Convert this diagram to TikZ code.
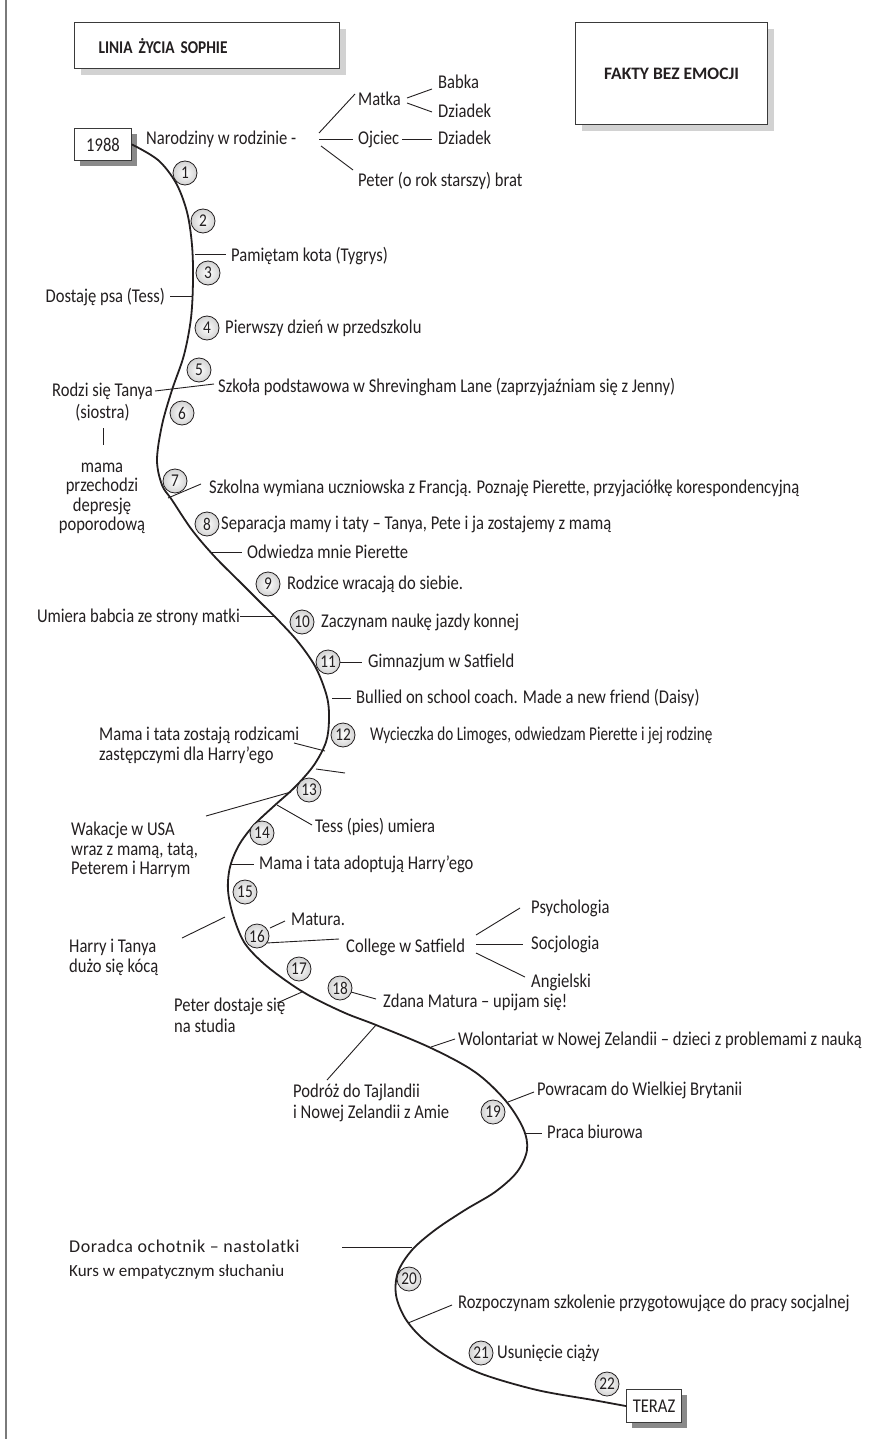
\documentclass[tikz,border=0pt]{standalone}
\usepackage{fontspec}
\setmainfont[FakeStretch=0.85]{Carlito}
\newfontfamily\headfont[FakeStretch=0.85]{Carlito}
\newfontfamily\widehead{Carlito}
\newfontfamily\tightfont[FakeStretch=0.78]{Carlito}
\newfontfamily\spacedfont[LetterSpace=3]{Carlito}
\newfontfamily\plainfont{Carlito}
\usetikzlibrary{shadows}
\definecolor{ink}{HTML}{231F20}
\definecolor{frame}{HTML}{3A3A3A}
\definecolor{paleshadow}{HTML}{D2D2D2}
\definecolor{darkshadow}{HTML}{8A8A8A}
\definecolor{edge}{HTML}{7A7A7A}
\tikzset{
  txt/.style={inner sep=0pt, text height=11pt, text depth=0pt, text=ink,
    font=\fontsize{19.5}{22}\selectfont},
  lw/.style={txt, anchor=west},
  le/.style={txt, anchor=east},
  % several lines: placed by the baseline of the last line
  multi/.style={inner sep=0pt, text=ink, align=#1},
  tick/.style={draw=ink, line width=0.9pt},
  life/.style={draw=ink, line width=1.8pt, line cap=round},
  num/.style={circle, draw=ink, line width=0.8pt, minimum size=24pt, inner sep=0pt,
    inner color=white, outer color=gray!35, text=ink,
    font=\fontsize{18}{18}\selectfont},
  bigbox/.style={draw=frame, line width=1.2pt, fill=white, anchor=north west,
    copy shadow={shadow xshift=6pt, shadow yshift=-6pt, draw=none, fill=paleshadow},
    text=ink},
  endbox/.style={draw=frame, line width=1.1pt, fill=white, anchor=north west, inner sep=0pt,
    copy shadow={shadow xshift=5pt, shadow yshift=-5pt, draw=none, fill=darkshadow},
    font=\fontsize{19.5}{22}\selectfont, text=ink},
}
\begin{document}
\begin{tikzpicture}[x=1pt, y=-1pt]
\useasboundingbox (0,0) rectangle (886,1439);
\fill[white] (0,0) rectangle (886,1439);
% page edge
\draw[edge, line width=2pt] (6,0) -- (6,1439);

% headings
\node[bigbox, minimum width=265pt, minimum height=46pt, text width=217pt,
  inner xsep=24pt, align=left, font=\headfont\bfseries\fontsize{18}{21}\selectfont]
  (title) at (74,22) {LINIA ŻYCIA SOPHIE};
\node[bigbox, minimum width=192pt, minimum height=102pt, align=center,
  font=\widehead\bfseries\fontsize{17.5}{21}\selectfont]
  (facts) at (575,22) {FAKTY BEZ EMOCJI};

% start and end of the life line
\node[endbox, minimum width=57pt, minimum height=32pt] (start) at (74,128) {1988};
\node[endbox, minimum width=55pt, minimum height=33pt] (now) at (626,1389) {TERAZ};

% the life line
\draw[life] plot[smooth, tension=0.55] coordinates {
  (start.east) (158,160) (176,183) (187,212) (192,245) (193,280) (191,318)
  (184,355) (172,390) (162,425) (157,460) (162,485) (172,500) (192,530)
  (215,557) (240,582) (262,604) (280,622) (299,643) (316,668) (327,697)
  (329,720) (326,742) (314,765) (295,787) (274,806) (254,825) (239,845)
  (230,867) (228,890) (233,915) (244,942) (262,962) (285,980) (310,996)
  (345,1013) (376,1025) (431,1048) (475,1072) (505,1100) (523,1128)
  (527,1150) (517,1172) (495,1192) (465,1210) (435,1230) (412,1250)
  (398,1272) (396,1295) (405,1318) (422,1338) (448,1357) (482,1374)
  (537,1390) (593,1400) (now.west)};

% family
\node[lw] (birth) at (146,139) {Narodziny w rodzinie -};
\node[lw] (mother) at (358,100) {Matka};
\node[lw] (gmother) at (438,83) {Babka};
\node[lw] (gfatherm) at (438,112) {Dziadek};
\node[lw] (father) at (358,139) {Ojciec};
\node[lw] (gfatherf) at (438,139) {Dziadek};
\node[lw] (brother) at (358,181) {Peter (o rok starszy) brat};
\draw[tick] (319,133) -- (355,94);
\draw[tick] (319,139) -- (353,139);
\draw[tick] (321,146) -- (353,170);
\draw[tick] (407,98) -- (432,89);
\draw[tick] (407,103) -- (432,112);
\draw[tick] (402,139) -- (432,139);

% events
\node[lw] (cat) at (231,256) {Pamiętam kota (Tygrys)};
\draw[tick] (195,254) -- (226,254);
\node[le] (dog) at (165,297) {Dostaję psa (Tess)};
\draw[tick] (170,296) -- (192,296);
\node[lw] (nursery) at (225,328) {Pierwszy dzień w przedszkolu};
\node[lw] (school) at (218,387) {Szkoła podstawowa w Shrevingham Lane (zaprzyjaźniam się z Jenny)};
\node[multi=center, anchor=base, font=\fontsize{19.5}{22}\selectfont] (sister) at (102.5,418.5) {Rodzi się Tanya\\(siostra)};
\draw[tick] (155,391) -- (214,384);
\draw[tick] (103,428) -- (103,445);
\node[multi=center, anchor=base, font=\fontsize{19.5}{19.5}\selectfont] (mum) at (102,530.5) {mama\\przechodzi\\depresję\\poporodową};
\node[lw] (exchange) at (209,488) {Szkolna wymiana uczniowska z Francją. Poznaję Pierette, przyjaciółkę korespondencyjną};
\draw[tick] (168,498) -- (201,484);
\node[lw] (separation) at (221,524) {Separacja mamy i taty – Tanya, Pete i ja zostajemy z mamą};
\node[lw] (visit) at (247,553) {Odwiedza mnie Pierette};
\draw[tick] (212,552) -- (242,552);
\node[lw] (together) at (287,584) {Rodzice wracają do siebie.};
\node[le] (grandma) at (240,617) {Umiera babcia ze strony matki};
\draw[tick] (240,616) -- (276,616);
\node[lw] (riding) at (321,622) {Zaczynam naukę jazdy konnej};
\node[lw] (gym) at (368,662) {Gimnazjum w Satfield};
\draw[tick] (339,662) -- (362,662);
\node[lw] (bullied) at (356,698) {Bullied on school coach. Made a new friend (Daisy)};
\draw[tick] (332,698) -- (351,698);
\node[multi=left, anchor=base west, font=\fontsize{19.5}{20}\selectfont] (foster) at (99,760.5) {Mama i tata zostają rodzicami\\zastępczymi dla Harry’ego};
\draw[tick] (294,743) -- (325,751);
\draw[tick] (316,769) -- (345,773);
\node[lw, font=\tightfont\fontsize{19.5}{22}\selectfont] (limoges) at (370,735) {Wycieczka do Limoges, odwiedzam Pierette i jej rodzinę};
\node[multi=left, anchor=base west, font=\fontsize{19.5}{19.5}\selectfont] (usa) at (71,874.5) {Wakacje w USA\\wraz z mamą, tatą,\\Peterem i Harrym};
\draw[tick] (206,816) -- (291,792);
\node[lw] (tess) at (315,827) {Tess (pies) umiera};
\draw[tick] (277,805) -- (312,825);
\node[lw] (adopt) at (259,864) {Mama i tata adoptują Harry’ego};
\draw[tick] (231,864) -- (254,864);
\node[lw] (matura) at (291,920) {Matura.};
\draw[tick] (270,928) -- (285,921);
\node[multi=left, anchor=base west, font=\fontsize{19.5}{20}\selectfont] (fights) at (69,972.5) {Harry i Tanya\\dużo się kócą};
\draw[tick] (182,938) -- (225,917);
\node[lw] (college) at (346,947) {College w Satfield};
\draw[tick] (266,943) -- (339,939);
\node[lw] (psych) at (531,908) {Psychologia};
\node[lw] (socio) at (531,944) {Socjologia};
\node[lw] (english) at (531,982) {Angielski};
\draw[tick] (476,935) -- (520,908);
\draw[tick] (476,944) -- (523,944);
\draw[tick] (476,953) -- (525,977);
\node[lw] (passed) at (383,1002) {Zdana Matura – upijam się!};
\draw[tick] (351,992) -- (376,999);
\node[multi=left, anchor=base west, font=\fontsize{19.5}{21}\selectfont] (uni) at (174,1032.5) {Peter dostaje się\\na studia};
\draw[tick] (302,992) -- (277,1003);
\node[lw] (volunteer) at (458,1040) {Wolontariat w Nowej Zelandii – dzieci z problemami z nauką};
\draw[tick] (431,1047) -- (455,1039);
\node[multi=left, anchor=base west, font=\fontsize{19.5}{21}\selectfont] (travel) at (293,1118.5) {Podróż do Tajlandii\\i Nowej Zelandii z Amie};
\draw[tick] (376,1025) -- (327,1080);
\node[lw] (back) at (537,1090) {Powracam do Wielkiej Brytanii};
\draw[tick] (508,1102) -- (534,1092);
\node[lw] (office) at (547,1133) {Praca biurowa};
\draw[tick] (525,1133) -- (542,1133);
\node[lw, font=\spacedfont\fontsize{18}{20}\selectfont] (advisor) at (69,1247) {Doradca ochotnik – nastolatki};
\node[lw, font=\plainfont\fontsize{17}{20}\selectfont] (course) at (69,1271) {Kurs w empatycznym słuchaniu};
\draw[tick] (342,1247) -- (412,1247);
\node[lw] (social) at (458,1303) {Rozpoczynam szkolenie przygotowujące do pracy socjalnej};
\draw[tick] (408,1323) -- (452,1305);
\node[lw] (abortion) at (497,1353) {Usunięcie ciąży};

% numbered moments
\foreach \n/\px/\py in {1/185/173, 2/203/221, 3/208/273, 4/207/328, 5/199/370,
  6/182/413, 7/175/481, 8/207/524, 9/268/584, 10/302/622, 11/328/662,
  12/343/735, 13/309/790, 14/262/833, 15/245/892, 16/257/936, 17/299/969,
  18/340/988, 19/493/1112, 20/409/1279, 21/481/1353, 22/607/1384}
  \node[num] (m\n) at (\px,\py) {\n};
\end{tikzpicture}
\end{document}
